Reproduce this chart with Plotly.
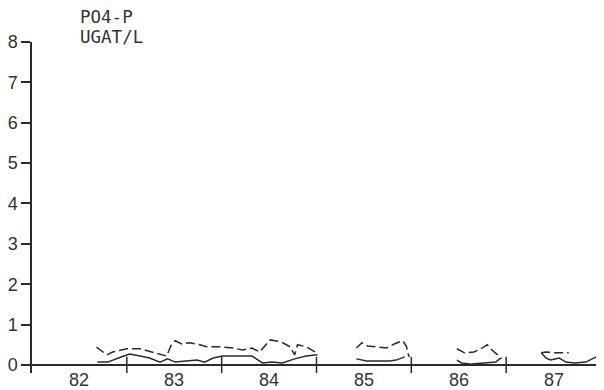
import plotly.graph_objects as go

# ---- data (decimal years, PO4-P in ugat/L) ----
dash_x1 = [1982.68, 1982.79, 1982.85, 1983.00, 1983.14, 1983.26, 1983.42, 1983.47, 1983.51, 1983.58,
           1983.66, 1983.77, 1983.84, 1983.98, 1984.12, 1984.22, 1984.32, 1984.40, 1984.51, 1984.63,
           1984.72, 1984.77, 1984.80, 1984.89, 1985.00]
dash_y1 = [0.44, 0.25, 0.32, 0.40, 0.40, 0.32, 0.22, 0.50, 0.60, 0.52,
           0.55, 0.50, 0.45, 0.45, 0.42, 0.37, 0.42, 0.32, 0.62, 0.57,
           0.45, 0.25, 0.50, 0.45, 0.30]
dash_x2 = [1985.42, 1985.48, 1985.54, 1985.63, 1985.74, 1985.82, 1985.91, 1985.95, 1985.96, 1985.98]
dash_y2 = [0.42, 0.55, 0.47, 0.45, 0.42, 0.52, 0.60, 0.45, 0.30, 0.20]
dash_x3 = [1986.48, 1986.56, 1986.66, 1986.75, 1986.80, 1986.85, 1986.91, 1986.95]
dash_y3 = [0.40, 0.30, 0.32, 0.42, 0.50, 0.37, 0.25, 0.15]
dash_x4 = [1987.37, 1987.42, 1987.53, 1987.66]
dash_y4 = [0.30, 0.32, 0.30, 0.30]

solid_x1 = [1982.69, 1982.80, 1982.91, 1983.03, 1983.14, 1983.24, 1983.35, 1983.43, 1983.51, 1983.63,
            1983.74, 1983.82, 1983.91, 1984.01, 1984.19, 1984.32, 1984.43, 1984.53, 1984.64, 1984.77,
            1984.89, 1985.01]
solid_y1 = [0.07, 0.07, 0.17, 0.27, 0.22, 0.17, 0.07, 0.15, 0.07, 0.10,
            0.12, 0.07, 0.17, 0.22, 0.22, 0.22, 0.05, 0.07, 0.05, 0.15,
            0.22, 0.25]
solid_x2 = [1985.42, 1985.53, 1985.66, 1985.77, 1985.84, 1985.93]
solid_y2 = [0.15, 0.10, 0.10, 0.10, 0.12, 0.20]
solid_x3 = [1986.48, 1986.53, 1986.64, 1986.79, 1986.89, 1986.94]
solid_y3 = [0.12, 0.05, 0.02, 0.05, 0.07, 0.17]
solid_x4 = [1987.37, 1987.42, 1987.47, 1987.56, 1987.63, 1987.72, 1987.84, 1987.95]
solid_y4 = [0.30, 0.17, 0.12, 0.17, 0.07, 0.05, 0.07, 0.20]

year_edges = [1983, 1984, 1985, 1986, 1987, 1988]
year_mids = [1982.5, 1983.5, 1984.5, 1985.5, 1986.5, 1987.5]
year_labels = ["82", "83", "84", "85", "86", "87"]
y_ticks = [0, 1, 2, 3, 4, 5, 6, 7, 8]

INK = "#2a2a2a"
TXT = "#333"


def join(segs):
    out = []
    for i, s in enumerate(segs):
        if i:
            out.append(None)
        out.extend(s)
    return out


dx = join([dash_x1, dash_x2, dash_x3, dash_x4])
dy = join([dash_y1, dash_y2, dash_y3, dash_y4])
sx = join([solid_x1, solid_x2, solid_x3, solid_x4])
sy = join([solid_y1, solid_y2, solid_y3, solid_y4])

fig = go.Figure()
fig.add_trace(go.Scatter(x=dx, y=dy, mode="lines", connectgaps=False,
                         line=dict(color=INK, width=1.5, dash="9px,4px"), hoverinfo="skip"))
fig.add_trace(go.Scatter(x=sx, y=sy, mode="lines", connectgaps=False,
                         line=dict(color=INK, width=1.5), hoverinfo="skip"))

for e in year_edges:
    fig.add_shape(type="line", xref="x", yref="y", x0=e, x1=e, y0=-0.2, y1=0.2,
                  line=dict(color=INK, width=1.5))

annotations = [
    dict(text=lab, xref="x", yref="paper", x=xm, y=-0.021, xanchor="center", yanchor="middle",
         showarrow=False, font=dict(family="Liberation Sans", size=18, color=TXT))
    for xm, lab in zip(year_mids, year_labels)
]
annotations += [
    dict(text="PO4-P", xref="paper", yref="paper", x=0.0825, y=1.075,
         xanchor="left", yanchor="middle", showarrow=False, borderpad=0,
         font=dict(family="DejaVu Sans Mono", size=17.5, color=TXT)),
    dict(text="UGAT/L", xref="paper", yref="paper", x=0.0825, y=1.015,
         xanchor="left", yanchor="middle", showarrow=False, borderpad=0,
         font=dict(family="DejaVu Sans Mono", size=17.5, color=TXT)),
]

fig.update_layout(
    width=596, height=382,
    margin=dict(l=24, r=3, t=34, b=17),
    paper_bgcolor="white", plot_bgcolor="white",
    showlegend=False,
    font=dict(family="Liberation Sans", size=18, color=TXT),
    xaxis=dict(range=[1982, 1988], showgrid=False, zeroline=False, showline=False,
               showticklabels=False, ticks="", automargin=False, fixedrange=True),
    yaxis=dict(range=[-0.2, 8], showgrid=False, zeroline=True, zerolinecolor=INK,
               zerolinewidth=1.5, showline=True, linecolor=INK, linewidth=1.5,
               tickmode="array", tickvals=y_ticks, ticks="outside", ticklen=9,
               tickcolor=INK, tickwidth=1.5, automargin=False, fixedrange=True),
    annotations=annotations,
)

fig.write_html("out.html")
